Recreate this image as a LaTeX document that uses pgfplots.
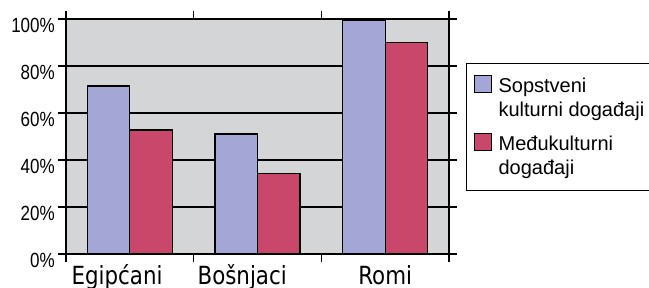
\documentclass[border=0pt]{standalone}
\usepackage{fontspec}
\setmainfont{Liberation Sans}
\newfontfamily\tickfont[FakeStretch=0.83]{Liberation Sans}
\newfontfamily\catfont[FakeStretch=0.855]{DejaVu Sans}
\usepackage{pgfplots}
\pgfplotsset{compat=1.18}
\definecolor{barblue}{RGB}{164,167,214}
\definecolor{barred}{RGB}{200,71,106}
\definecolor{plotbg}{RGB}{212,213,215}
\begin{document}
\begin{tikzpicture}
\begin{axis}[
  at={(66pt,34pt)}, anchor=south west,
  scale only axis, width=383pt, height=235pt,
  ybar=0pt, bar width=0.333,
  xmin=-0.5, xmax=2.5, ymin=0, ymax=100,
  axis background/.style={fill=plotbg},
  axis line style={line width=1.7pt},
  ytick={0,20,40,60,80,100},
  yticklabels={0\%,20\%,40\%,60\%,80\%,100\%},
  ymajorgrids, major grid style={black, line width=1.6pt},
  tick align=outside, major tick length=8pt, minor tick length=8pt,
  tick style={black, line width=1.5pt},
  major x tick style={draw=none},
  minor x tick style={black, line width=1.5pt},
  y tick label style={font=\fontsize{20.5}{20.5}\tickfont, anchor=north east, inner sep=0pt, xshift=-3pt, yshift=1pt},
  xtick={-0.1,0.88,2.0}, xticklabels={Egipćani,Bošnjaci,Romi},
  minor xtick={-0.5,0.5,1.5,2.5},
  x tick label style={font=\fontsize{25}{25}\catfont, anchor=base, inner sep=0pt, yshift=-23pt},
  legend style={at={(1.0444,0.8128)}, anchor=north west, draw=black, line width=1.2pt,
    font=\fontsize{20}{24.4}\selectfont, cells={anchor=base west}, row sep=2.4pt,
    column sep=7pt, nodes={inner sep=0pt},
    inner xsep=7pt, inner ysep=11pt},
  legend image code/.code={\path[draw=none,fill=none] (0pt,-5pt) rectangle (17pt,17pt);\draw[#1, line width=1pt] (0pt,0pt) rectangle (17pt,17pt);},
]
\addplot[fill=barblue, draw=black, line width=1.3pt] coordinates {(0,71.5) (1,51) (2,99.4)};
\addlegendentry{Sopstveni}
\addlegendimage{legend image code/.code={\path[draw=none,fill=none] (0pt,-14pt) rectangle (17pt,17pt);}}
\addlegendentry{kulturni događaji}
\addplot[fill=barred, draw=black, line width=1.3pt] coordinates {(0,52.8) (1,34.2) (2,90)};
\addlegendentry{Međukulturni}
\addlegendimage{legend image code/.code={\path[draw=none,fill=none] (0pt,-5pt) rectangle (17pt,17pt);}}
\addlegendentry{događaji}
\end{axis}
\pgfresetboundingbox
\useasboundingbox (0,0) rectangle (649pt,288pt);
\end{tikzpicture}
\end{document}
